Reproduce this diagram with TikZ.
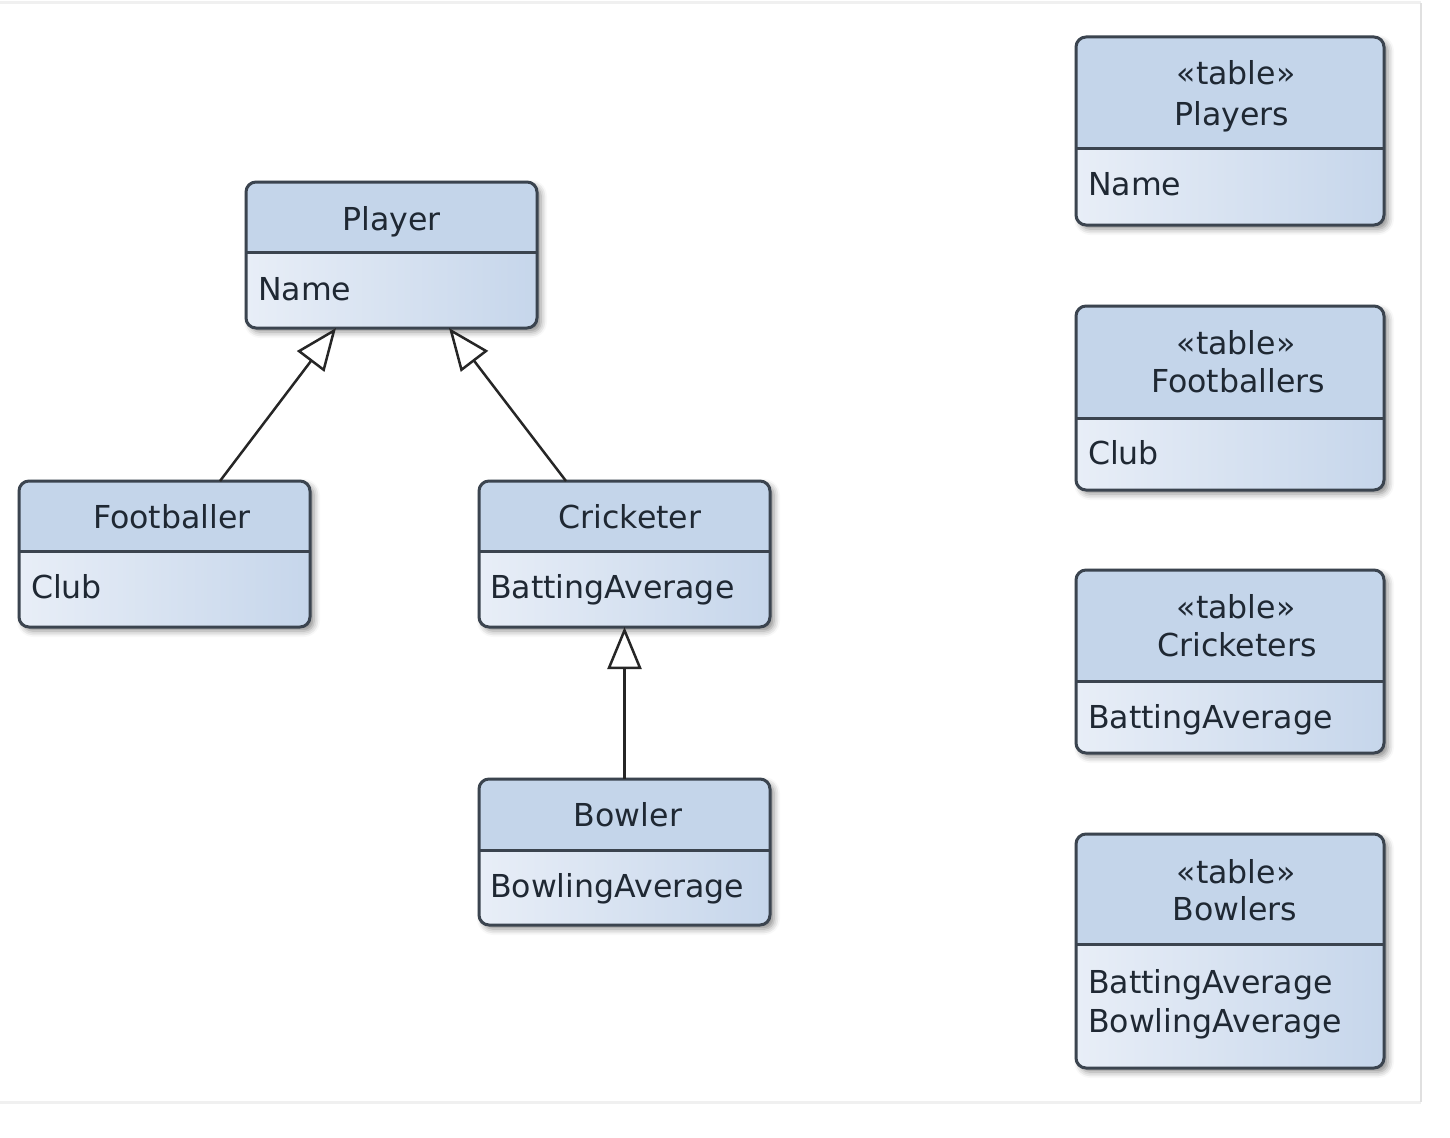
\documentclass[tikz,border=0pt]{standalone}
\usepackage{fontspec}
\setmainfont{DejaVu Sans}
\usetikzlibrary{arrows.meta,calc,shadows.blur}

\definecolor{headfill}{HTML}{C4D5EA}
\definecolor{bodyleft}{HTML}{E8EEF7}
\definecolor{bodyright}{HTML}{C6D6EB}
\definecolor{edge}{HTML}{3B444F}
\definecolor{ink}{HTML}{1F2833}
\definecolor{framegray}{HTML}{F0F0F0}

\tikzset{
  every node/.style={font=\fontsize{31.6pt}{40pt}\selectfont, text=ink, inner sep=0pt, outer sep=0pt},
  boxedge/.style={draw=edge, line width=3pt, rounded corners=10pt},
  divider/.style={draw=edge, line width=3pt},
  headtext/.style={anchor=base},
  attrtext/.style={anchor=base west},
  generalization/.style={draw=black!85, line width=2.5pt,
    -{Triangle[open, length=42pt, width=34pt, fill=white]}},
}

% \umlbox{name}{left}{top}{right}{divider}{bottom}
\newcommand{\umlbox}[6]{%
  \path[fill=white, rounded corners=10pt,
        blur shadow={shadow xshift=4pt, shadow yshift=-4pt,
                     shadow blur radius=6pt, shadow opacity=45}]
    (#2,#3) rectangle (#4,#6);
  \begin{scope}
    \clip[rounded corners=10pt] (#2,#3) rectangle (#4,#6);
    \fill[headfill] (#2,#3) rectangle (#4,#5);
    \shade[shading angle=60, left color=bodyleft, right color=bodyright] (#2,#5) rectangle (#4,#6);
  \end{scope}
  \draw[divider] (#2,#5) -- (#4,#5);
  \draw[boxedge] (#2,#3) rectangle (#4,#6);
  \node[minimum width={(#4-#2)*1pt}, minimum height={(#6-#3)*1pt}]
    (#1) at ({(#2+#4)/2},{(#3+#6)/2}) {};
}

\begin{document}
\begin{tikzpicture}[x=1pt, y=-1pt]
  \useasboundingbox (0,0) rectangle (1450,1137);

  % faint outer frame
  \draw[framegray, line width=3pt] (0,3) -- (1421,3);
  \draw[framegray, line width=3pt] (0,1102) -- (1421,1102);
  \draw[black!12, line width=2pt] (1421,3) -- (1421,1102);

  % ---------------- class model ----------------
  \umlbox{player}{246}{182}{537}{252}{328}
  \node[headtext] (player-title) at (391.5,230) {Player};
  \node[attrtext] (player-a1) at (258,300) {Name};

  \umlbox{footballer}{19}{481}{310}{551}{627}
  \node[headtext] (footballer-title) at (172,528) {Footballer};
  \node[attrtext] (footballer-a1) at (31,598) {Club};

  \umlbox{cricketer}{479}{481}{770}{551}{627}
  \node[headtext] (cricketer-title) at (630,528) {Cricketer};
  \node[attrtext] (cricketer-a1) at (490,598) {BattingAverage};

  \umlbox{bowler}{479}{779}{770}{850}{925}
  \node[headtext] (bowler-title) at (628,826) {Bowler};
  \node[attrtext] (bowler-a1) at (490,897) {BowlingAverage};

  % generalisations
  \draw[generalization] ($(footballer.north)+(55.5,0)$) -- ($(player.south)+(-55.5,0)$);
  \draw[generalization] ($(cricketer.north)+(-58.5,0)$) -- ($(player.south)+(57.5,0)$);
  \draw[generalization] (bowler.north) -- (cricketer.south);

  % ---------------- table model ----------------
  \umlbox{players}{1076}{37}{1384}{148}{225}
  \node[headtext] (players-st) at (1236,85) {«table»};
  \node[headtext] (players-title) at (1232,125) {Players};
  \node[attrtext] (players-a1) at (1088,195) {Name};

  \umlbox{footballers}{1076}{306}{1384}{418}{490}
  \node[headtext] (footballers-st) at (1236,354) {«table»};
  \node[headtext] (footballers-title) at (1238,392) {Footballers};
  \node[attrtext] (footballers-a1) at (1088,464) {Club};

  \umlbox{cricketers}{1076}{570}{1384}{681}{753}
  \node[headtext] (cricketers-st) at (1236,618) {«table»};
  \node[headtext] (cricketers-title) at (1237,656) {Cricketers};
  \node[attrtext] (cricketers-a1) at (1088,728) {BattingAverage};

  \umlbox{bowlers}{1076}{834}{1384}{944}{1068}
  \node[headtext] (bowlers-st) at (1236,883) {«table»};
  \node[headtext] (bowlers-title) at (1235,920) {Bowlers};
  \node[attrtext] (bowlers-a1) at (1088,993) {BattingAverage};
  \node[attrtext] (bowlers-a2) at (1088,1032) {BowlingAverage};
\end{tikzpicture}
\end{document}
